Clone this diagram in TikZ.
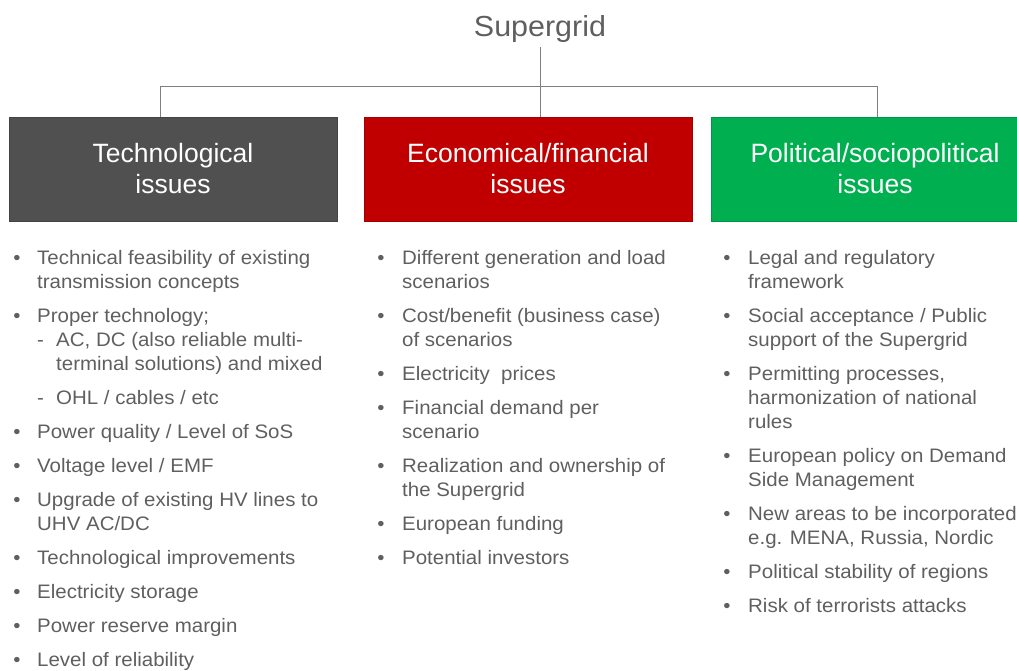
\documentclass[tikz,border=0pt]{standalone}
\usepackage{fontspec}
\setmainfont{Liberation Sans}
\newfontfamily\bodyf[FakeStretch=1.05]{Liberation Sans}
\definecolor{txt}{HTML}{5F5F5F}
\definecolor{linec}{HTML}{7F7F7F}
\definecolor{techgrey}{HTML}{505050}
\definecolor{ecored}{HTML}{C00000}
\definecolor{polgreen}{HTML}{00B050}
\tikzset{
  hdr/.style={minimum width=328pt, minimum height=104pt, inner sep=0pt, text=white, align=center,
    font=\fontsize{26.5}{31}\selectfont},
  itm/.style={anchor=base west, inner sep=0pt, text=txt, align=left, font=\bodyf\fontsize{19.5}{24}\selectfont},
  bul/.style={anchor=base, inner sep=0pt, text=txt, font=\bodyf\fontsize{19.5}{24}\selectfont},
  conn/.style={draw=linec, line width=0.9pt},
}
\begin{document}
\begin{tikzpicture}[x=1pt,y=-1pt]
\useasboundingbox (0,0) rectangle (1017,670);
% title
\node[text=txt, font=\bodyf\fontsize{29}{34}\selectfont, inner sep=0pt, anchor=base] (sg) at (540,36) {Supergrid};
% headers
\node[hdr, fill=techgrey, draw=techgrey!85!black] (b1) at (173,169) {Technological\\issues};
\node[hdr, fill=ecored, draw=ecored!85!black] (b2) at (528,169) {Economical/financial\\issues};
\node[hdr, fill=polgreen, draw=polgreen!85!black] (b3) at (875,169) {Political/sociopolitical\\issues};
% connectors
\coordinate (jl) at (160,86);
\coordinate (jr) at (877,86);
\draw[conn] (540,47) coordinate (st) -- (st |- b2.north);
\draw[conn] (jl) -- (jr);
\draw[conn] (jl) -- (jl |- b1.north);
\draw[conn] (jr) -- (jr |- b3.north);
% column 1 (multi-line nodes are placed at the baseline of their last line)
\node[bul] (a1b) at (17,264) {•};
\node[itm] (a1) at (37,288) {Technical feasibility of existing\\transmission concepts};
\node[bul] (a2b) at (17,322) {•};
\node[itm] (a2) at (37,322) {Proper technology;};
\node[itm] (a2d1) at (37,346) {-};
\node[itm] (a2s1) at (56,370) {AC, DC (also reliable multi-\\terminal solutions) and mixed};
\node[itm] (a2d2) at (37,404) {-};
\node[itm] (a2s2) at (56,404) {OHL / cables / etc};
\node[bul] (a3b) at (17,438) {•};
\node[itm] (a3) at (37,438) {Power quality / Level of SoS};
\node[bul] (a4b) at (17,472) {•};
\node[itm] (a4) at (37,472) {Voltage level / EMF};
\node[bul] (a5b) at (17,506) {•};
\node[itm] (a5) at (37,530) {Upgrade of existing HV lines to\\UHV AC/DC};
\node[bul] (a6b) at (17,564) {•};
\node[itm] (a6) at (37,564) {Technological improvements};
\node[bul] (a7b) at (17,598) {•};
\node[itm] (a7) at (37,598) {Electricity storage};
\node[bul] (a8b) at (17,632) {•};
\node[itm] (a8) at (37,632) {Power reserve margin};
\node[bul] (a9b) at (17,666) {•};
\node[itm] (a9) at (37,666) {Level of reliability};
% column 2
\node[bul] (e1b) at (381,264) {•};
\node[itm] (e1) at (402,288) {Different generation and load\\scenarios};
\node[bul] (e2b) at (381,322) {•};
\node[itm] (e2) at (402,346) {Cost/benefit (business case)\\of scenarios};
\node[bul] (e3b) at (381,380) {•};
\node[itm] (e3) at (402,380) {Electricity\ \ prices};
\node[bul] (e4b) at (381,414) {•};
\node[itm] (e4) at (402,438) {Financial demand per\\scenario};
\node[bul] (e5b) at (381,472) {•};
\node[itm] (e5) at (402,496) {Realization and ownership of\\the Supergrid};
\node[bul] (e6b) at (381,530) {•};
\node[itm] (e6) at (402,530) {European funding};
\node[bul] (e7b) at (381,564) {•};
\node[itm] (e7) at (402,564) {Potential investors};
% column 3
\node[bul] (p1b) at (727,264) {•};
\node[itm] (p1) at (748,288) {Legal and regulatory\\framework};
\node[bul] (p2b) at (727,322) {•};
\node[itm] (p2) at (748,346) {Social acceptance / Public\\support of the Supergrid};
\node[bul] (p3b) at (727,380) {•};
\node[itm] (p3) at (748,428) {Permitting processes,\\harmonization of national\\rules};
\node[bul] (p4b) at (727,462) {•};
\node[itm] (p4) at (748,486) {European policy on Demand\\Side Management};
\node[bul] (p5b) at (727,520) {•};
\node[itm] (p5) at (748,544) {New areas to be incorporated\\e.g. MENA, Russia, Nordic};
\node[bul] (p6b) at (727,578) {•};
\node[itm] (p6) at (748,578) {Political stability of regions};
\node[bul] (p7b) at (727,612) {•};
\node[itm] (p7) at (748,612) {Risk of terrorists attacks};
\end{tikzpicture}
\end{document}
